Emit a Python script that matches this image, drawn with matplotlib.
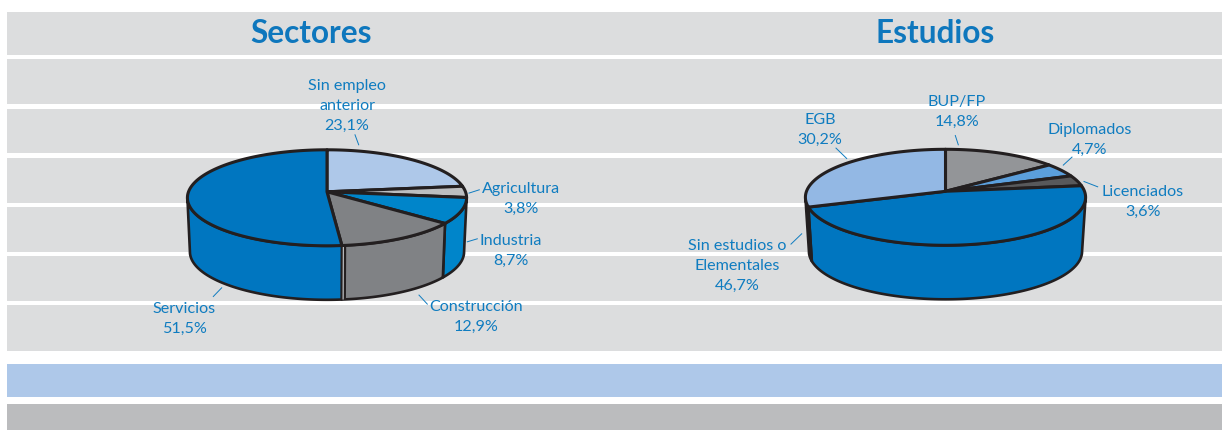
import numpy as np
import matplotlib
matplotlib.use("Agg")
import matplotlib.pyplot as plt
from matplotlib.patches import Polygon, Rectangle

# ---- data ----
sector_names = ["Sin empleo\nanterior", "Agricultura", "Industria", "Construcción", "Servicios"]
sector_values = [23.1, 3.8, 8.7, 12.9, 51.5]
sector_colors = ["#aec8e9", "#bcbec0", "#0085ca", "#808285", "#0076c0"]

estudio_names = ["BUP/FP", "Diplomados", "Licenciados", "Sin estudios o\nElementales", "EGB"]
estudio_values = [14.8, 4.7, 3.6, 46.7, 30.2]
estudio_colors = ["#939598", "#5b9fdc", "#58595b", "#0076c0", "#93b8e4"]

titles = ["Sectores", "Estudios"]

# ---- layout ----
W, H = 1222, 431
TXT = "#0f7cc0"
INK = "#231f20"
stripe_tops = [55, 104.3, 153.3, 202.7, 251.7, 301]
LEFT = dict(cx=327, cy=198, a=138.5, b=48, bx=327, by=252, ba=136, bb=48, sliver=3)
RIGHT = dict(cx=945.5, cy=197.5, a=139, b=48, bx=945.5, by=251.5, ba=135.5, bb=48, sliver=None)
TILT = 0.125
FRONT = (np.degrees(np.arccos(-TILT)), 360 - np.degrees(np.arccos(-TILT)))

sector_lab = [(347, 105), (521, 198), (511, 250), (476, 316), (184, 318)]
sector_lead = [((355, 135), (358.7, 145)), ((469, 193.3), (479.3, 190)), ((467.3, 242), (477.3, 239)),
               ((419, 295.3), (427.3, 304.3)), ((221.7, 288), (213.3, 296.7))]
estudio_lab = [(957, 111), (1090, 139), (1143, 201), (737, 265), (820, 129.5)]
estudio_lead = [((955.3, 135.7), (958.3, 145)), ((1072, 157.3), (1063.3, 165.3)), ((1084, 181.7), (1097.7, 187)),
                ((801.7, 234), (791, 244.3)), ((836, 148.3), (846.7, 158.7))]

plt.rcParams["font.family"] = ["Lato", "DejaVu Sans"]
fig = plt.figure(figsize=(W / 100, H / 100), dpi=100, facecolor="white")
ax = fig.add_axes([0, 0, 1, 1])
ax.set_xlim(0, W)
ax.set_ylim(H - 0.8, -0.8)
ax.axis("off")

ax.add_patch(Rectangle((7, 12), W - 7, 339, fc="#dcddde", ec="none", zorder=0))
for y in stripe_tops:
    ax.add_patch(Rectangle((7, y), W - 7, 4.5, fc="white", ec="none", zorder=1))
ax.add_patch(Rectangle((7, 364), W - 7, 33, fc="#aec8e9", ec="none", zorder=1))
ax.add_patch(Rectangle((7, 404), W - 7, 28, fc="#bbbcbe", ec="none", zorder=1))


def rim(theta):
    """Clockwise from 12 o'clock (deg) -> unit circle seen in perspective."""
    t = np.radians(theta)
    X, Y = np.sin(t), np.cos(t)
    d = 1 + TILT * Y
    return X / d, (Y + TILT) / d


def pie(values, colors, g):
    edges = np.concatenate([[0], np.cumsum(values) / np.sum(values) * 360])
    lw = 1.9
    # outer walls: only the part of each slice that faces the viewer
    for v0, v1, c in zip(edges[:-1], edges[1:], colors):
        lo, hi = max(v0, FRONT[0]), min(v1, FRONT[1])
        if hi <= lo:
            continue
        x, y = rim(np.linspace(lo, hi, 120))
        top = np.c_[g["cx"] + g["a"] * x, g["cy"] - g["b"] * y]
        bot = np.c_[g["bx"] + g["ba"] * x, g["by"] - g["bb"] * y]
        ax.add_patch(Polygon(np.r_[top, bot[::-1]], closed=True, fc=c, ec=INK, lw=lw, joinstyle="round", zorder=3))
    # thin lit strip on the wall at the slice boundary nearest the front
    if g["sliver"]:
        v = edges[np.argmin(np.abs(edges - 180))]
        x, y = rim(v)
        tx, ty = g["cx"] + g["a"] * x, g["cy"] - g["b"] * y
        bx, by = g["bx"] + g["ba"] * x, g["by"] - g["bb"] * y
        s = g["sliver"]
        ax.plot([tx + s, bx + s], [ty, by - 1], color=INK, lw=lw, zorder=3.5, solid_capstyle="butt")
        ax.plot([tx + s / 2, bx + s / 2], [ty, by], color="#b9babc", lw=0.9, zorder=3.6, solid_capstyle="butt")
    # top faces
    apex = (g["cx"], g["cy"] - g["b"] * TILT)
    for v0, v1, c in zip(edges[:-1], edges[1:], colors):
        x, y = rim(np.linspace(v0, v1, 120))
        top = np.c_[g["cx"] + g["a"] * x, g["cy"] - g["b"] * y]
        ax.add_patch(Polygon(np.r_[[apex], top], closed=True, fc=c, ec=INK, lw=lw + 0.3, joinstyle="round", zorder=4))


pie(sector_values, sector_colors, LEFT)
pie(estudio_values, estudio_colors, RIGHT)

for names, vals, labs, leads in [(sector_names, sector_values, sector_lab, sector_lead),
                                 (estudio_names, estudio_values, estudio_lab, estudio_lead)]:
    for n, v, (x, y), (p0, p1) in zip(names, vals, labs, leads):
        s = n + "\n" + f"{v:.1f}".replace(".", ",") + "%"
        ax.text(x, y, s, ha="center", va="center", color=TXT, fontsize=11.6, linespacing=1.53, zorder=6)
        ax.plot([p0[0], p1[0]], [p0[1], p1[1]], color=TXT, lw=0.7, zorder=5)

for t, x in zip(titles, [311, 935]):
    ax.text(x, 33, t, ha="center", va="center", color="#0e77bd", fontsize=22.7, fontweight="bold", zorder=6)

fig.savefig("out.png", dpi=100, facecolor="white")
